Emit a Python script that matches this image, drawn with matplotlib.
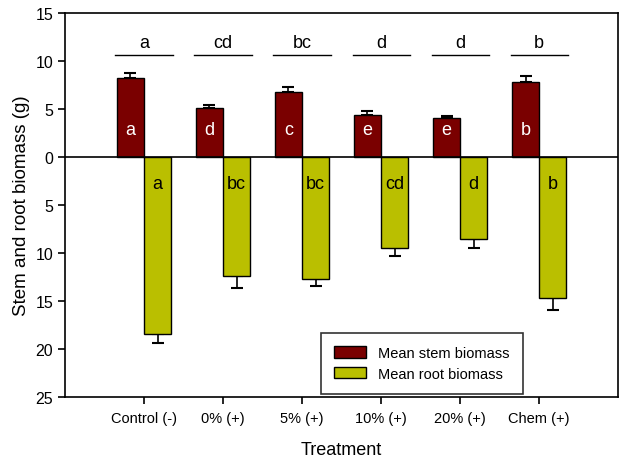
import matplotlib
matplotlib.use("Agg")
import matplotlib.pyplot as plt
from matplotlib.ticker import FuncFormatter
import numpy as np

plt.rcParams['font.family'] = ['Liberation Sans', 'DejaVu Sans']

treatments = ["Control (-)", "0% (+)", "5% (+)", "10% (+)", "20% (+)", "Chem (+)"]
stem_mean = [8.2, 5.1, 6.8, 4.4, 4.0, 7.8]
stem_err = [0.5, 0.35, 0.5, 0.35, 0.3, 0.6]
root_mean = [18.4, 12.4, 12.7, 9.5, 8.6, 14.7]
root_err = [1.0, 1.3, 0.8, 0.8, 0.9, 1.2]
stem_letters = ["a", "d", "c", "e", "e", "b"]
root_letters = ["a", "bc", "bc", "cd", "d", "b"]
total_letters = ["a", "cd", "bc", "d", "d", "b"]

stem_color = "#7a0000"
root_color = "#babf00"

fig = plt.figure(figsize=(6.2, 4.6), dpi=100)
ax = fig.add_axes([0.105, 0.135, 0.892, 0.835])

x = np.arange(len(treatments))
w = 0.345

ax.bar(x - w / 2, stem_mean, width=w, color=stem_color, edgecolor="black",
       linewidth=1.0, label="Mean stem biomass", zorder=3)
ax.errorbar(x - w / 2, stem_mean, yerr=[np.zeros(len(x)), stem_err], fmt="none",
            ecolor="black", elinewidth=1.2, capsize=4, capthick=1.5, zorder=2)

neg_root = [-v for v in root_mean]
ax.bar(x + w / 2, neg_root, width=w, color=root_color, edgecolor="black",
       linewidth=1.0, label="Mean root biomass", zorder=3)
ax.errorbar(x + w / 2, neg_root, yerr=[root_err, np.zeros(len(x))], fmt="none",
            ecolor="black", elinewidth=1.2, capsize=4, capthick=1.5, zorder=2)

ax.axhline(0, color="black", linewidth=1.2, zorder=4)

for i in range(len(x)):
    ax.text(x[i] - w / 2, 2.8, stem_letters[i], color="white", fontsize=13,
            ha="center", va="center", zorder=5)
    ax.text(x[i] + w / 2, -2.8, root_letters[i], color="black", fontsize=13,
            ha="center", va="center", zorder=5)
    ax.plot([x[i] - w * 1.05, x[i] + w * 1.05], [10.6, 10.6], color="black",
            linewidth=1.0)
    ax.text(x[i], 11.0, total_letters[i], color="black", fontsize=13,
            ha="center", va="bottom")

ax.set_xlim(-1, 6)
ax.set_ylim(-25, 15)
ax.set_yticks(np.arange(-25, 16, 5))
ax.yaxis.set_major_formatter(FuncFormatter(lambda v, p: f"{abs(int(round(v)))}"))
ax.set_xticks(x)
ax.set_xticklabels(treatments, fontsize=10.5)
ax.tick_params(axis="y", labelsize=11.5, length=5, width=1.2, direction="out")
ax.tick_params(axis="x", length=5, width=1.2, direction="out", pad=5)
for s in ax.spines.values():
    s.set_linewidth(1.2)

ax.set_ylabel("Stem and root biomass (g)", fontsize=13.5, labelpad=4)
ax.set_xlabel("Treatment", fontsize=13, labelpad=12)

leg = ax.legend(loc="lower left", bbox_to_anchor=(0.463, 0.008), fontsize=10.5,
                frameon=True, fancybox=False, edgecolor="black",
                handlelength=2.2, handleheight=0.85, borderpad=0.9,
                labelspacing=0.45, borderaxespad=0)
leg.get_frame().set_linewidth(1.2)

fig.savefig("out.png", dpi=100)
